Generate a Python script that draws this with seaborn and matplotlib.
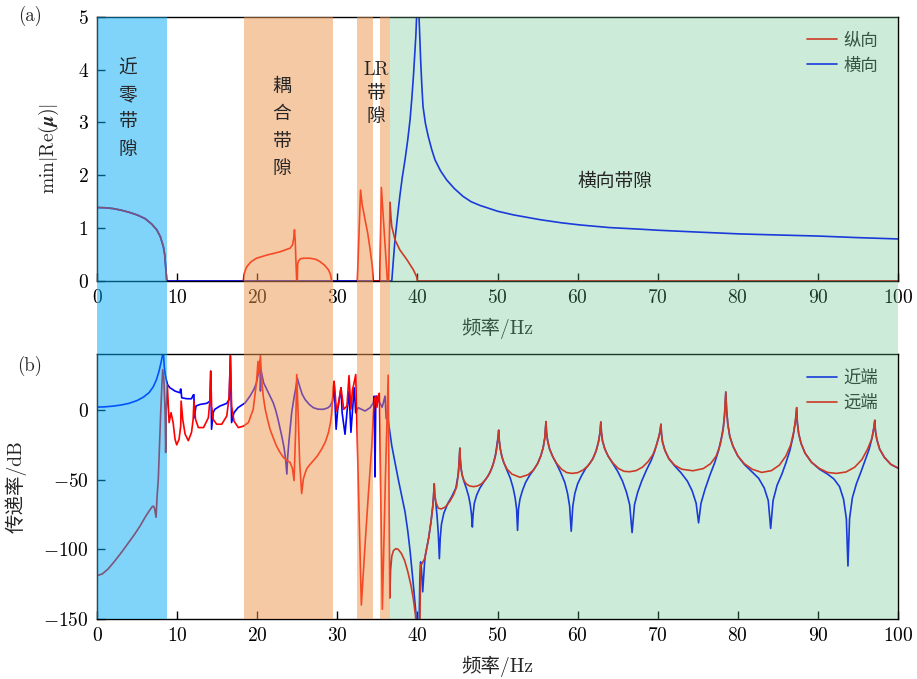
import numpy as np
import pandas as pd
import matplotlib
matplotlib.use("Agg")
import matplotlib.pyplot as plt
import matplotlib.transforms as mtransforms
from matplotlib.patches import Rectangle
from matplotlib.lines import Line2D
import seaborn as sns

sns.set_theme(style="white")
plt.rcParams["font.family"] = ["cmr10", "Noto Sans CJK SC", "DejaVu Sans"]
plt.rcParams["mathtext.fontset"] = "cm"
plt.rcParams["axes.unicode_minus"] = False

# ---------------- data ----------------
xticks = [0, 10, 20, 30, 40, 50, 60, 70, 80, 90, 100]
yticks_a = [0, 1, 2, 3, 4, 5]
yticks_b = [-150, -100, -50, 0]

band_lo = [0, 18.3, 32.4, 35.3, 36.6]
band_hi = [8.7, 29.4, 34.5, 36.6, 100]
band_colors = ["#03A9F4", "#EF954D", "#EF954D", "#EF954D", "#58C383"]
band_alpha = [0.5, 0.5, 0.5, 0.5, 0.3]

# (a) longitudinal (纵向): (frequency, min|Re(mu)|), three visible pieces
red_a_near = [(0, 1.39), (1, 1.385), (2, 1.37), (3, 1.34), (4, 1.30), (5, 1.25), (6, 1.18),
              (6.8, 1.08), (7.45, 0.97), (7.9, 0.84), (8.28, 0.65), (8.45, 0.5), (8.57, 0.27),
              (8.65, 0.12), (8.7, 0)]
red_a_coupled = [(18.27, 0), (18.35, 0.12), (18.5, 0.2), (18.7, 0.27),
                 (19.2, 0.36), (19.9, 0.43), (21.2, 0.49), (22.8, 0.55), (24.1, 0.62),
                 (24.4, 0.68), (24.55, 0.8), (24.65, 0.97), (24.75, 0.75), (24.85, 0.3),
                 (24.93, 0), (25.0, 0), (25.05, 0.32), (25.15, 0.38), (25.4, 0.42),
                 (25.75, 0.43), (26.6, 0.43), (27.3, 0.41), (27.8, 0.37), (28.4, 0.3),
                 (28.9, 0.21), (29.15, 0.12), (29.3, 0)]
red_a_lr = [(32.5, 0), (32.9, 1.72), (33.1, 1.45), (33.46, 1.16), (33.8, 0.9), (34.1, 0.59),
            (34.35, 0.3), (34.5, 0), (35.3, 0), (35.5, 1.77), (36.25, 0), (36.4, 0),
            (36.58, 1.49), (36.7, 1.2), (36.8, 1.03), (37.2, 0.78), (37.8, 0.59),
            (38.7, 0.40), (39.5, 0.21), (39.9, 0.08), (40.0, 0), (100, 0)]
# (a) transverse (横向)
blue_a_pts = [(0, 1.39), (1, 1.385), (2, 1.37), (3, 1.34), (4, 1.30), (5, 1.25), (6, 1.18),
              (6.8, 1.08), (7.45, 0.97), (7.9, 0.84), (8.28, 0.65), (8.45, 0.5), (8.57, 0.27),
              (8.65, 0.12), (8.7, 0), (36.8, 0), (37.0, 0.4), (37.2, 0.78), (37.5, 1.2),
              (37.8, 1.6), (38.1, 1.95), (38.45, 2.29), (38.8, 2.68), (39.08, 3.05),
              (39.3, 3.45), (39.5, 3.87), (39.65, 4.25), (39.8, 4.63), (39.9, 5.0),
              (40.05, 6.0), (40.2, 5.0), (40.3, 4.6), (40.4, 4.19), (40.55, 3.7), (40.7, 3.30),
              (41.0, 2.98), (41.36, 2.73), (41.8, 2.48), (42.2, 2.29), (42.9, 2.08),
              (43.66, 1.91), (44.6, 1.75), (45.7, 1.60), (46.7, 1.5), (47.8, 1.43),
              (49.0, 1.37), (50.0, 1.32), (52.0, 1.25), (55.3, 1.16), (58.0, 1.1),
              (60.3, 1.06), (64.0, 1.01), (67.8, 0.98), (70.0, 0.96), (75.0, 0.925),
              (80.3, 0.89), (85.0, 0.87), (90.0, 0.85), (95.0, 0.82), (100, 0.795)]

# (b) near end (近端): (frequency, dB)
near_pts = [
    (0, 2.1), (1, 2.3), (2, 2.8), (3, 3.6), (4, 4.8), (5, 6.8), (5.8, 9.3), (6.5, 12.5),
    (7.0, 16.5), (7.4, 21.5), (7.7, 27), (7.95, 33), (8.1, 37), (8.2, 40), (8.3, 40),
    (8.4, 31), (8.5, 26), (8.6, 23), (8.8, 18.3), (9.1, 16), (9.74, 13.6), (10.36, 12.4),
    (10.42, 15), (10.48, 15), (10.57, 8.8), (11.2, 8.1), (11.8, 8.1), (12.0, 10.7),
    (12.1, 11), (12.15, -5.5), (12.36, 2.9), (12.86, 4), (13.7, 4.8), (14.1, 6.4),
    (14.2, 27.9), (14.3, -13.8), (14.5, -1.9), (14.7, 0.5), (15.36, 2.9), (16.2, 4.8),
    (16.5, 7.6), (16.65, 39), (16.8, -9), (17.1, -1.9), (17.6, 1.7), (18.5, 5.2),
    (19.1, 10), (19.6, 15), (19.9, 19.5), (20.2, 27.9), (20.35, 35), (20.4, 13.6),
    (20.5, 27.9), (20.8, 19.5), (21.2, 14.8), (21.6, 10), (22.0, 5.2), (22.3, 0),
    (22.6, -6.7), (23.06, -18.6), (23.35, -27), (23.55, -36), (23.7, -46), (23.8, -34),
    (23.95, -23), (24.3, -1.9), (24.6, 9), (24.85, 17), (25.0, 23), (25.15, 20), (25.3, 17),
    (25.6, 11.5), (25.97, 7.6), (26.5, 4), (27.0, 1.7), (27.6, 0.6), (28.25, 0.5),
    (28.8, 1.5), (29.1, 2.9), (29.4, 6.4), (29.6, 19.5), (29.85, -13.8), (30.05, 0.5),
    (30.46, 16), (30.6, -1.9), (30.96, -17.4), (31.2, -1.9), (31.46, 13.6), (31.7, -16),
    (31.9, 0), (32.1, 16), (32.3, -2), (32.6, 1.7), (33.46, -0.7), (34.1, 1.7), (34.5, 5.2),
    (34.6, 10), (34.7, -48), (34.8, 5), (34.9, 10), (35.3, 5.2), (35.6, 2), (35.96, 10),
    (36.1, -6), (36.37, -8), (36.8, -25.7), (37.6, -49.5), (38.45, -73), (38.8, -87),
    (39.1, -102), (39.5, -126), (39.8, -145), (39.95, -160), (40.2, -160), (40.3, -121),
    (40.4, -109), (40.5, -114), (40.66, -130.5), (40.9, -109), (41.0, -104), (41.4, -92),
    (41.7, -80), (41.9, -70), (42.0, -63), (42.1, -53), (42.15, -60), (42.3, -67),
    (42.45, -76), (42.6, -88), (42.74, -106.7), (42.85, -92), (43.0, -82), (43.3, -74),
    (43.8, -67), (44.3, -62), (44.8, -56), (45.1, -46), (45.2, -38), (45.3, -27.4),
    (45.35, -35), (45.45, -42), (45.6, -47), (45.8, -51), (46.1, -56), (46.4, -62),
    (46.6, -68), (46.75, -75), (46.86, -84), (46.95, -75), (47.1, -67), (47.4, -61),
    (47.8, -56), (48.3, -51.5), (48.8, -47.5), (49.2, -43), (49.5, -38), (49.75, -32),
    (49.95, -24), (50.05, -20), (50.15, -14.5),
    (50.22, -22), (50.35, -28), (50.55, -33.5), (50.8, -38), (51.2, -43.5), (51.6, -49),
    (51.95, -56), (52.2, -63), (52.38, -71), (52.5, -86.4), (52.62, -71), (52.8, -64),
    (53.1, -58), (53.5, -52), (54.0, -47), (54.5, -43), (55.0, -38.5), (55.4, -33),
    (55.7, -27), (55.9, -20), (56.05, -8.3),
    (56.12, -16), (56.25, -22), (56.5, -28), (56.9, -33.5), (57.4, -39), (57.9, -45),
    (58.4, -52), (58.75, -60), (59.0, -69), (59.2, -87), (59.4, -69), (59.65, -60),
    (60.0, -53), (60.5, -47), (61.0, -42), (61.5, -38.5), (61.9, -35), (62.3, -29.5),
    (62.6, -23), (62.8, -16), (62.9, -8.6),
    (62.97, -16), (63.1, -22), (63.4, -28), (63.8, -33), (64.4, -38.5), (65.0, -44),
    (65.6, -51), (66.1, -59), (66.5, -68), (66.8, -88), (67.1, -68), (67.5, -59),
    (68.0, -51), (68.6, -43), (69.2, -36), (69.6, -30), (69.9, -24), (70.15, -19),
    (70.3, -15), (70.4, -10.2),
    (70.47, -17), (70.6, -23), (70.9, -29), (71.4, -35), (72.1, -40), (72.9, -45),
    (73.7, -51), (74.3, -58), (74.8, -67), (75.1, -81), (75.4, -67), (75.9, -57),
    (76.5, -47), (77.1, -38), (77.6, -29), (77.95, -20), (78.2, -12), (78.35, -3),
    (78.5, 12.9),
    (78.6, 0), (78.75, -10), (79.0, -19), (79.4, -26), (80.0, -33), (80.8, -39),
    (81.7, -44), (82.6, -49), (83.3, -56), (83.8, -65), (84.1, -85), (84.4, -65),
    (84.9, -54), (85.5, -46), (86.0, -38), (86.5, -29), (86.9, -19), (87.2, -8),
    (87.35, 1.7),
    (87.43, -9), (87.6, -17), (87.9, -24), (88.4, -31), (89.2, -37.5), (90.2, -42.5),
    (91.2, -46), (92.0, -49.5), (92.7, -55), (93.2, -64), (93.55, -78), (93.75, -112),
    (93.95, -78), (94.3, -63), (94.8, -53), (95.4, -44), (95.9, -36), (96.4, -28),
    (96.8, -19), (97.0, -12), (97.1, -7.4),
    (97.18, -15), (97.35, -21), (97.7, -28), (98.3, -34), (99.1, -39), (100, -41.7)]

# (b) far end (远端)
far_pts = [
    (0, -119), (0.7, -117.5), (1.4, -114), (2.2, -108.5), (3.08, -102), (3.9, -95.5),
    (4.74, -88.8), (5.4, -83), (6.0, -77), (6.5, -72.5), (6.9, -69.3), (7.05, -69),
    (7.2, -71), (7.37, -77), (7.5, -62), (7.65, -49.5), (7.8, -25), (7.95, -1.9), (8.1, 18),
    (8.2, 29), (8.35, 22), (8.5, -2), (8.57, -30.5), (8.65, 0), (8.78, 18.3), (9.0, -9),
    (9.24, -1.9), (9.5, -9), (9.74, -21), (9.95, -25), (10.24, -21), (10.45, -11.4),
    (10.5, 6.4), (10.7, -6.7), (11.0, -17.4), (11.4, -22), (11.8, -16), (12.0, -6.7),
    (12.1, 6.4), (12.3, -6.7), (12.65, -12.6), (13.3, -12.6), (13.9, -5.5), (14.1, 7.6),
    (14.2, 27.9), (14.3, 2.9), (14.5, -6.7), (14.94, -10.2), (15.57, -10.2), (16.2, -4.3),
    (16.5, 10), (16.65, 39), (16.8, 2.9), (17.1, -7.9), (17.64, -12.6), (18.26, -11.6),
    (18.9, -9), (19.5, 0.5), (19.9, 19.5), (20.1, 35), (20.2, 26), (20.4, 39), (20.55, 22),
    (20.75, 10), (21.0, 0.5), (21.3, -7), (21.6, -13.8), (22.0, -20), (22.4, -25.7),
    (22.8, -30), (23.26, -34), (23.7, -36.2), (24.1, -37.6), (24.4, -42), (24.6, -50.7),
    (24.8, -14), (24.93, 25.5), (25.1, -1), (25.3, -37.6), (25.55, -60), (25.76, -49.5),
    (26.0, -45), (26.2, -42), (26.6, -39), (27.0, -36.4), (27.5, -33), (28.05, -28),
    (28.5, -23), (28.9, -16), (29.15, -9), (29.3, -1.9), (29.5, 17), (29.6, 20.7),
    (29.9, -0.7), (30.1, 2.9), (30.46, 16), (30.8, 0.5), (31.2, 2.9), (31.46, 24.7),
    (31.6, 10), (31.7, 0.5), (31.9, 15), (32.0, 17), (32.3, 25.5), (32.4, 0), (33.0, -140),
    (33.46, -97), (33.87, -61), (34.3, -25.7), (34.5, -1.9), (34.65, 8), (34.8, 10),
    (34.95, 2), (35.1, 10), (35.25, 12), (35.4, -50), (35.62, -143), (36.0, -50),
    (36.35, 25), (36.45, -60), (36.55, -135), (36.65, -115), (36.8, -105), (37.0, -101),
    (37.3, -99.5), (37.6, -100), (38.0, -103), (38.4, -108), (38.8, -116), (39.2, -126),
    (39.5, -136), (39.75, -147), (39.9, -160), (40.3, -160), (40.4, -111), (40.5, -111),
    (40.9, -106.7), (41.0, -104), (41.4, -92), (41.7, -80), (41.9, -70), (42.0, -63),
    (42.1, -53), (42.15, -60), (42.3, -66), (42.6, -70.5), (43.0, -71), (43.5, -69.5),
    (44.0, -66), (44.5, -61), (44.9, -55), (45.1, -46), (45.2, -38), (45.3, -27.4),
    (45.35, -35), (45.45, -42), (45.6, -47), (45.8, -50.5), (46.1, -53), (46.5, -54.5),
    (47.0, -55), (47.5, -54.5), (48.0, -53), (48.5, -50), (49.0, -45.5), (49.4, -40),
    (49.7, -34), (49.9, -28), (50.05, -21), (50.15, -14.5),
    (50.22, -22), (50.35, -28), (50.55, -33.5), (50.8, -38), (51.2, -42.5), (51.8, -46),
    (52.8, -48.3), (53.8, -46.5), (54.5, -43), (55.0, -38.5), (55.4, -33), (55.7, -27),
    (55.9, -20), (56.05, -8.3),
    (56.12, -16), (56.25, -22), (56.5, -28), (56.9, -33.5), (57.4, -38.5), (58.0, -42.5),
    (58.6, -44.8), (59.26, -45.5), (60.0, -45), (60.7, -43), (61.3, -40), (61.9, -35),
    (62.3, -29.5), (62.6, -23), (62.8, -16), (62.9, -8.6),
    (62.97, -16), (63.1, -22), (63.4, -28), (63.8, -33), (64.4, -38), (65.1, -42),
    (65.8, -44), (66.5, -44.3), (67.3, -43.5), (68.1, -41), (68.8, -37), (69.4, -32),
    (69.8, -26), (70.1, -20), (70.3, -15), (70.4, -10.2),
    (70.47, -17), (70.6, -23), (70.9, -29), (71.4, -35), (72.1, -39.5), (73.0, -42.5),
    (74.4, -43.6), (75.7, -42), (76.6, -38.5), (77.3, -33), (77.8, -25), (78.15, -15),
    (78.35, -3), (78.5, 12.9),
    (78.6, 0), (78.75, -10), (79.0, -19), (79.4, -26), (80.0, -33), (80.8, -38.5),
    (81.8, -42.5), (82.98, -44.8), (84.2, -43.5), (85.2, -39.5), (86.0, -33), (86.6, -25),
    (87.0, -15), (87.2, -7), (87.35, 1.7),
    (87.43, -9), (87.6, -17), (87.9, -24), (88.4, -31), (89.2, -37.5), (90.2, -42),
    (91.2, -44.8), (92.3, -45.5), (93.5, -44.5), (94.6, -41), (95.5, -35.5), (96.2, -28),
    (96.7, -21), (96.95, -14), (97.1, -7.4),
    (97.18, -15), (97.35, -21), (97.7, -28), (98.3, -34), (99.1, -39), (100, -41.7)]

RED = "#FF0000"
BLUE = "#0000FF"
CJK = ["Noto Sans CJK SC"]
MIX = ["cmr10"] + CJK
LW = 1.2


def frame(pieces):
    rows = []
    for k, pts in enumerate(pieces):
        for f, v in pts:
            rows.append({"f": f, "v": v, "piece": k})
    return pd.DataFrame(rows)


# ---------------- figure ----------------
fig = plt.figure(figsize=(9.17, 6.79), dpi=100)
ax_a = fig.add_axes([0.1058, 0.5862, 0.8735, 0.3892])
ax_b = fig.add_axes([0.1058, 0.0884, 0.8735, 0.3898])

for ax, pieces, col in [(ax_a, [blue_a_pts], BLUE),
                        (ax_a, [red_a_near, red_a_coupled, red_a_lr], RED),
                        (ax_b, [near_pts], BLUE),
                        (ax_b, [far_pts], RED)]:
    sns.lineplot(data=frame(pieces), x="f", y="v", units="piece", ax=ax, color=col,
                 linewidth=LW, sort=False, estimator=None, legend=False)

for ax, yt, ylim in [(ax_a, yticks_a, (0, 5)), (ax_b, yticks_b, (-150, 40))]:
    ax.set_xlim(0, 100)
    ax.set_ylim(*ylim)
    ax.set_xticks(xticks)
    ax.set_xticklabels([f"${v}$" for v in xticks])
    ax.set_yticks(yt)
    ax.set_yticklabels([f"${v}$" for v in yt])
    ax.tick_params(direction="in", length=6, width=1, bottom=True, left=True, top=False,
                   right=False, labelsize=14, pad=6, colors="black")
    for s in ax.spines.values():
        s.set_color("black")
        s.set_linewidth(1.0)
    ax.set_xlabel("频率/Hz", fontsize=14, family=MIX)
    ax.xaxis.set_label_coords(0.5, -0.14)

ax_a.set_ylabel(r"$\mathrm{min}|\mathrm{Re}(\boldsymbol{\mu})|$", fontsize=14)
ax_a.yaxis.set_label_coords(-0.045, 0.5)
ax_b.set_ylabel("传递率/dB", fontsize=14, family=MIX)
ax_b.yaxis.set_label_coords(-0.088, 0.5)

leg_kw = dict(loc="upper right", frameon=False, prop={"family": CJK, "size": 12.5},
              handlelength=1.7, handletextpad=0.4, labelspacing=0.4, borderaxespad=0,
              bbox_to_anchor=(0.984, 0.97))
ax_a.legend([Line2D([], [], color=RED, lw=LW), Line2D([], [], color=BLUE, lw=LW)],
            ["纵向", "横向"], **leg_kw)
ax_b.legend([Line2D([], [], color=BLUE, lw=LW), Line2D([], [], color=RED, lw=LW)],
            ["近端", "远端"], **leg_kw)

# band overlays spanning both panels
y0 = ax_b.get_position().y0
y1 = ax_a.get_position().y1
trans = mtransforms.blended_transform_factory(ax_a.transData, fig.transFigure)
for lo, hi, c, a in zip(band_lo, band_hi, band_colors, band_alpha):
    fig.add_artist(Rectangle((lo, y0), hi - lo, y1 - y0, transform=trans, facecolor=c,
                             edgecolor="none", alpha=a, zorder=1))

# annotations
txt_kw = dict(transform=ax_a.transData, ha="center", va="center", fontsize=13.5,
              linespacing=1.4, zorder=3)
fig.text(3.87, 3.27, "近\n零\n带\n隙", family=CJK, **txt_kw)
fig.text(23.1, 2.9, "耦\n合\n带\n隙", family=CJK, **txt_kw)
fig.text(34.83, 3.54, "LR\n带\n隙", family=MIX, **txt_kw)
fig.text(64.7, 1.88, "横向带隙", transform=ax_a.transData, ha="center", va="center",
         fontsize=13.5, family=CJK, zorder=3)

fig.text(30 / 917, 1 - 16 / 679, "(a)", ha="center", va="center", fontsize=13.5,
         family="cmr10", zorder=3)
fig.text(30 / 917, 1 - 366 / 679, "(b)", ha="center", va="center", fontsize=13.5,
         family="cmr10", zorder=3)

fig.savefig("out.png", dpi=100)
